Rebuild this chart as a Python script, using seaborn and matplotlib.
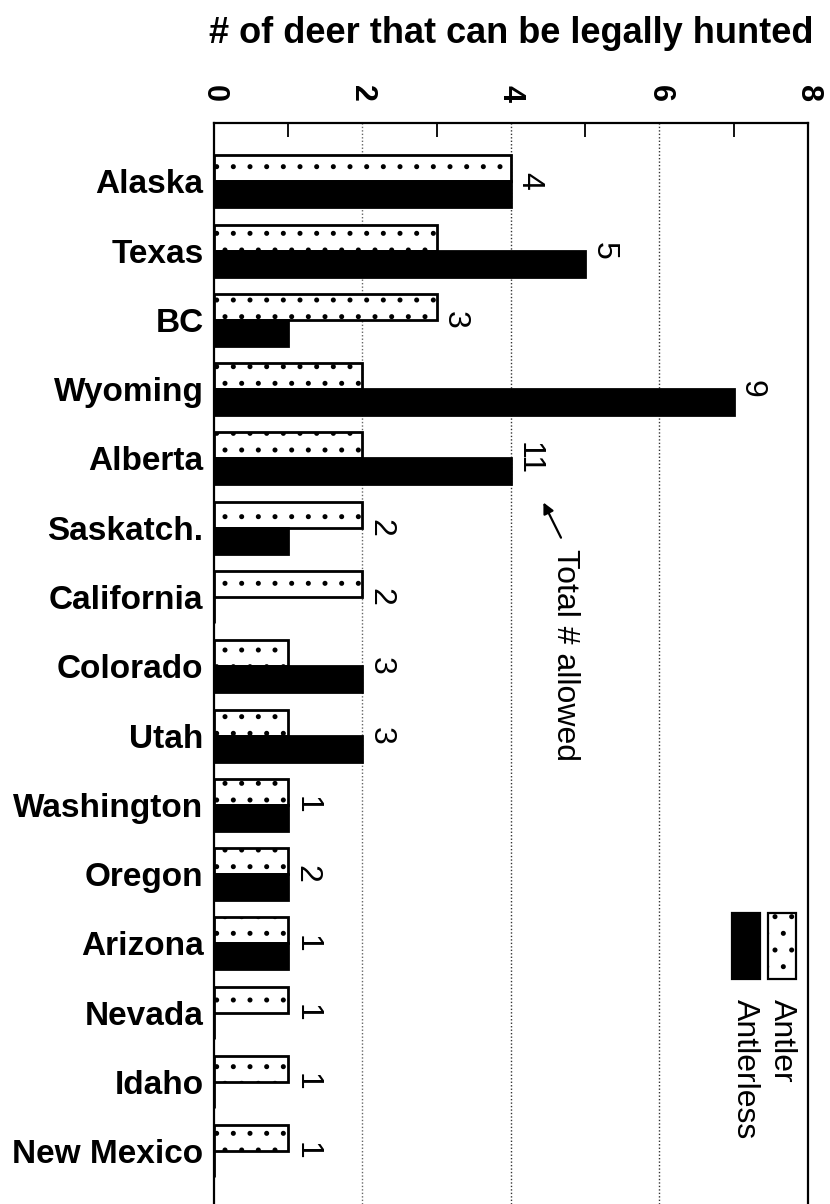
import matplotlib
matplotlib.use("Agg")
import matplotlib.pyplot as plt
from matplotlib.patches import Rectangle
import seaborn as sns
import pandas as pd

states = ["Alaska", "Texas", "BC", "Wyoming", "Alberta", "Saskatch.", "California",
          "Colorado", "Utah", "Washington", "Oregon", "Arizona", "Nevada", "Idaho",
          "New Mexico"]
antler = [4, 3, 3, 2, 2, 2, 2, 1, 1, 1, 1, 1, 1, 1, 1]
antlerless = [4, 5, 1, 7, 4, 1, 0, 2, 2, 1, 1, 1, 0, 0, 0]
total_allowed = [4, 5, 3, 9, 11, 2, 2, 3, 3, 1, 2, 1, 1, 1, 1]
x_ticks = [0, 2, 4, 6, 8]
series_names = ["Antler", "Antlerless"]
x_label = "# of deer that can be legally hunted"
note_text = "Total # allowed"

df = pd.DataFrame({
    "state": states * 2,
    "type": [series_names[0]] * len(states) + [series_names[1]] * len(states),
    "value": antler + antlerless,
})

sns.set_style("white")
plt.rcParams["font.family"] = ["Liberation Sans", "DejaVu Sans"]
plt.rcParams["hatch.linewidth"] = 1.2
plt.rcParams["text.color"] = "black"
plt.rcParams["axes.labelcolor"] = "black"
plt.rcParams["xtick.color"] = "black"
plt.rcParams["ytick.color"] = "black"

fig = plt.figure(figsize=(8.3, 12.04), dpi=100)
ax = fig.add_axes([0.2578, 0.0, 0.7157, 0.8978])

sns.barplot(data=df, y="state", x="value", hue="type", hue_order=series_names,
            order=states, orient="h", width=0.75,
            palette={"Antler": "white", "Antlerless": "black"},
            edgecolor="black", linewidth=2, legend=False, ax=ax)

for p in ax.containers[0]:
    p.set_hatch(".")

ax.set_xlim(0, 8)
ax.set_ylim(14.76, -0.84)

# gridlines
for gx, col in [(2, "#666666"), (4, "#333333"), (6, "#333333")]:
    ax.axvline(gx, color=col, linestyle=(0, (1, 1.5)), linewidth=1, zorder=0)

ax.xaxis.tick_top()
ax.xaxis.set_label_position("top")
ax.set_xticks(x_ticks)
ax.set_xticklabels([str(t) for t in x_ticks], rotation=-90, fontsize=22,
                   fontweight="bold", color="black")
ax.set_xticks([1, 3, 5, 7], minor=True)
ax.tick_params(axis="x", which="major", top=True, bottom=False, direction="in",
               length=0, pad=15)
ax.tick_params(axis="x", which="minor", top=True, bottom=False, direction="in",
               length=10, width=1.3, color="black")
ax.tick_params(axis="y", left=False, pad=4)
for lbl in ax.get_yticklabels():
    lbl.set_fontsize(24)
    lbl.set_fontweight("bold")
    lbl.set_color("black")
ax.set_ylabel("")
ax.set_xlabel(x_label, fontsize=26, fontweight="bold", labelpad=30, color="black")

for s in ["top", "left", "right"]:
    ax.spines[s].set_visible(True)
    ax.spines[s].set_color("black")
    ax.spines[s].set_linewidth(1.6)
ax.spines["bottom"].set_visible(False)

# value labels (total allowed)
for i, (a, b, t) in enumerate(zip(antler, antlerless, total_allowed)):
    ax.annotate(str(t), xy=(max(a, b), i), xytext=(13, 0), textcoords="offset points",
                rotation=-90, ha="center", va="center", fontsize=23, color="black")

# "Total # allowed" note with arrow
ax.annotate("", xy=(4.42, 4.60), xytext=(4.69, 5.18),
            arrowprops=dict(arrowstyle="-|>", color="black", lw=1.6,
                            mutation_scale=16))
ax.text(4.73, 5.30, note_text, rotation=-90, ha="center", va="top", fontsize=23,
        color="black")

# legend (rotated)
ax.add_patch(Rectangle((0.933, 0.208), 0.047, 0.061, transform=ax.transAxes,
                       facecolor="white", edgecolor="black", linewidth=1.6,
                       hatch=".", clip_on=False))
ax.add_patch(Rectangle((0.872, 0.208), 0.047, 0.061, transform=ax.transAxes,
                       facecolor="black", edgecolor="black", linewidth=1.6,
                       clip_on=False))
ax.text(0.956, 0.19, series_names[0], transform=ax.transAxes, rotation=-90,
        ha="center", va="top", fontsize=23, color="black")
ax.text(0.894, 0.19, series_names[1], transform=ax.transAxes, rotation=-90,
        ha="center", va="top", fontsize=23, color="black")

fig.savefig("out.png", dpi=100)
